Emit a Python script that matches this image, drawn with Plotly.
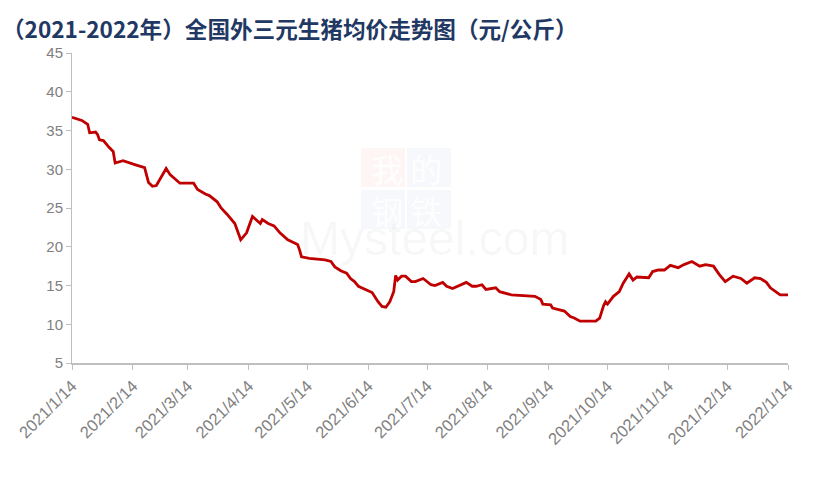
import plotly.graph_objects as go

title_text = "（2021-2022年）全国外三元生猪均价走势图（元/公斤）"

dates = [
    "2021-01-14", "2021-01-19", "2021-01-22", "2021-01-23", "2021-01-26", "2021-01-27",
    "2021-01-28", "2021-01-30", "2021-02-02", "2021-02-04", "2021-02-05", "2021-02-09",
    "2021-02-15", "2021-02-20", "2021-02-22", "2021-02-24", "2021-02-26", "2021-03-03",
    "2021-03-05", "2021-03-08", "2021-03-10", "2021-03-17", "2021-03-19", "2021-03-23",
    "2021-03-25", "2021-03-29", "2021-03-31", "2021-04-03", "2021-04-07", "2021-04-10",
    "2021-04-13", "2021-04-16", "2021-04-18", "2021-04-20", "2021-04-21", "2021-04-24",
    "2021-04-27", "2021-04-30", "2021-05-04", "2021-05-09", "2021-05-10", "2021-05-11",
    "2021-05-15", "2021-05-23", "2021-05-26", "2021-05-28", "2021-05-31", "2021-06-03",
    "2021-06-05", "2021-06-07", "2021-06-09", "2021-06-11", "2021-06-16", "2021-06-19",
    "2021-06-21", "2021-06-23", "2021-06-25", "2021-06-27", "2021-06-28", "2021-06-29",
    "2021-07-01", "2021-07-03", "2021-07-06", "2021-07-08", "2021-07-12", "2021-07-16",
    "2021-07-18", "2021-07-22", "2021-07-24", "2021-07-27", "2021-07-31", "2021-08-03",
    "2021-08-06", "2021-08-08", "2021-08-11", "2021-08-13", "2021-08-18", "2021-08-20",
    "2021-08-26", "2021-09-02", "2021-09-07", "2021-09-10", "2021-09-11", "2021-09-15",
    "2021-09-16", "2021-09-22", "2021-09-25", "2021-09-27", "2021-09-30", "2021-10-08",
    "2021-10-10", "2021-10-12", "2021-10-13", "2021-10-14", "2021-10-17", "2021-10-20",
    "2021-10-22", "2021-10-25", "2021-10-27", "2021-10-29", "2021-11-04", "2021-11-06",
    "2021-11-09", "2021-11-12", "2021-11-15", "2021-11-19", "2021-11-22", "2021-11-26",
    "2021-11-30", "2021-12-03", "2021-12-07", "2021-12-10", "2021-12-13", "2021-12-17",
    "2021-12-21", "2021-12-24", "2021-12-28", "2021-12-31", "2022-01-03", "2022-01-05",
    "2022-01-10", "2022-01-14",
]

prices = [
    36.7, 36.3, 35.8, 34.7, 34.8, 34.5,
    33.8, 33.7, 32.8, 32.3, 30.8, 31.1,
    30.6, 30.2, 28.3, 27.8, 27.9, 30.1,
    29.3, 28.6, 28.2, 28.2, 27.4, 26.8,
    26.6, 25.8, 25.0, 24.2, 23.0, 20.9,
    21.8, 23.9, 23.5, 23.0, 23.5, 23.0,
    22.7, 21.8, 20.9, 20.3, 19.6, 18.7,
    18.5, 18.3, 18.1, 17.4, 16.9, 16.6,
    15.9, 15.5, 14.9, 14.7, 14.1, 12.9,
    12.3, 12.2, 12.9, 14.2, 16.3, 15.7,
    16.2, 16.2, 15.5, 15.5, 15.9, 15.1,
    15.0, 15.4, 14.9, 14.6, 15.1, 15.4,
    14.9, 14.9, 15.1, 14.5, 14.7, 14.2,
    13.8, 13.7, 13.6, 13.2, 12.6, 12.5,
    12.1, 11.7, 11.0, 10.8, 10.4, 10.4,
    10.8, 12.4, 12.9, 12.6, 13.6, 14.2,
    15.3, 16.5, 15.7, 16.1, 16.0, 16.8,
    17.0, 17.0, 17.6, 17.3, 17.7, 18.1,
    17.5, 17.7, 17.5, 16.4, 15.5, 16.2,
    15.9, 15.3, 16.0, 15.9, 15.4, 14.7,
    13.8, 13.8,
]

tick_dates = [
    "2021-01-14", "2021-02-14", "2021-03-14", "2021-04-14", "2021-05-14", "2021-06-14",
    "2021-07-14", "2021-08-14", "2021-09-14", "2021-10-14", "2021-11-14", "2021-12-14",
    "2022-01-14",
]
tick_labels = [
    "2021/1/14", "2021/2/14", "2021/3/14", "2021/4/14", "2021/5/14", "2021/6/14",
    "2021/7/14", "2021/8/14", "2021/9/14", "2021/10/14", "2021/11/14", "2021/12/14",
    "2022/1/14",
]

y_ticks = [5, 10, 15, 20, 25, 30, 35, 40, 45]

L, R, T, B = 72, 27, 53, 117
W, H = 815, 480
PW, PH = W - L - R, H - T - B

def px(x):
    return (x - L) / PW

def py(y):
    return (H - B - y) / PH

fig = go.Figure()

# Faint watermark boxes (drawn below the data)
boxes = [
    (361, 148, 405, 187, "rgba(235,110,110,0.07)"),
    (407, 148, 451, 187, "rgba(110,130,200,0.06)"),
    (361, 190, 405, 229, "rgba(110,130,200,0.06)"),
    (407, 190, 451, 229, "rgba(110,130,200,0.06)"),
]
for x0, y0, x1, y1, col in boxes:
    fig.add_shape(type="rect", xref="paper", yref="paper",
                  x0=px(x0), x1=px(x1), y0=py(y1), y1=py(y0),
                  fillcolor=col, line=dict(width=0), layer="below")

fig.add_trace(go.Scatter(
    x=dates, y=prices, mode="lines",
    line=dict(color="#C00000", width=2.8),
    hoverinfo="x+y", showlegend=False,
))

axis_color = "#BFBFBF"
y_font = dict(family="Liberation Sans, Arial, sans-serif", size=15, color="#808080")
x_font = dict(family="Liberation Sans, Arial, sans-serif", size=16.5, color="#808080")

fig.update_layout(
    width=W, height=H,
    margin=dict(l=L, r=R, t=T, b=B),
    paper_bgcolor="white", plot_bgcolor="white",
    xaxis=dict(
        type="date", automargin=False,
        range=["2021-01-14", "2022-01-14"],
        tickmode="array", tickvals=tick_dates, ticktext=tick_labels,
        tickangle=-45, tickfont=x_font,
        showgrid=False, zeroline=False,
        showline=True, linecolor=axis_color, linewidth=2,
        ticks="outside", ticklen=5, tickcolor=axis_color, tickwidth=1,
    ),
    yaxis=dict(
        range=[5, 45], tickmode="array", tickvals=y_ticks, automargin=False,
        tickfont=y_font,
        showgrid=False, zeroline=False,
        showline=True, linecolor=axis_color, linewidth=1,
        ticks="outside", ticklen=5, tickcolor=axis_color, tickwidth=1,
    ),
)

# Title
fig.add_annotation(
    xref="paper", yref="paper", x=px(0), y=py(28),
    xanchor="left", yanchor="middle", showarrow=False,
    text="<b>" + title_text + "</b>",
    font=dict(family="Noto Sans CJK SC", size=22.6, color="#1F3864"),
)

# Watermark characters and text
fig.add_annotation(
    xref="paper", yref="paper", x=px(406), y=py(189),
    text="我 的<br>钢 铁", showarrow=False, align="center",
    font=dict(family="Noto Sans CJK SC", size=32, color="rgba(255,255,255,0.95)"),
)
fig.add_annotation(
    xref="paper", yref="paper", x=px(434), y=py(238),
    text="Mysteel.com", showarrow=False,
    font=dict(family="Liberation Sans, Arial, sans-serif", size=48, color="rgba(0,0,0,0.04)"),
)

fig.write_html(
    "out.html",
    config={"displayModeBar": False},
    post_script="document.body.style.margin='0';document.body.style.overflow='hidden';",
)
